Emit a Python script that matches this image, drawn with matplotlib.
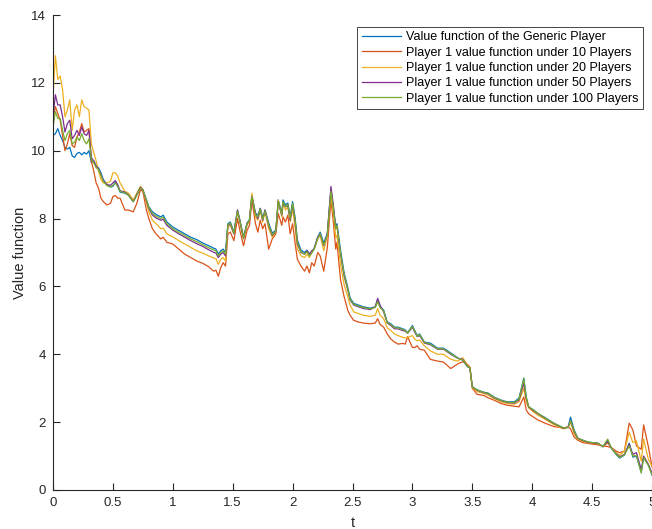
import matplotlib
matplotlib.use('Agg')
import matplotlib.pyplot as plt

# time grid shared by all paths
t = [
    0.00, 0.02, 0.04, 0.06, 0.08, 0.10, 0.12, 0.14, 0.16, 0.18,
    0.20, 0.22, 0.24, 0.26, 0.28, 0.30, 0.32, 0.34, 0.36, 0.38,
    0.40, 0.42, 0.45, 0.48, 0.50, 0.52, 0.54, 0.56, 0.60, 0.63,
    0.67, 0.70, 0.73, 0.75, 0.78, 0.80, 0.83, 0.86, 0.90, 0.92,
    0.95, 1.00, 1.05, 1.10, 1.15, 1.20, 1.25, 1.30, 1.34, 1.36,
    1.38, 1.40, 1.42, 1.44, 1.46, 1.48, 1.51, 1.54, 1.56, 1.59,
    1.62, 1.64, 1.66, 1.69, 1.71, 1.73, 1.75, 1.77, 1.80, 1.83,
    1.86, 1.88, 1.91, 1.92, 1.94, 1.96, 1.98, 2.00, 2.02, 2.04,
    2.07, 2.10, 2.12, 2.14, 2.16, 2.18, 2.21, 2.23, 2.26, 2.29,
    2.32, 2.34, 2.36, 2.37, 2.40, 2.43, 2.46, 2.48, 2.51, 2.55,
    2.59, 2.65, 2.69, 2.71, 2.73, 2.76, 2.79, 2.82, 2.85, 2.88,
    2.92, 2.94, 2.96, 3.00, 3.02, 3.04, 3.06, 3.10, 3.15, 3.21,
    3.26, 3.32, 3.38, 3.42, 3.46, 3.48, 3.50, 3.54, 3.60, 3.63,
    3.68, 3.74, 3.79, 3.85, 3.89, 3.93, 3.95, 3.97, 4.01, 4.05,
    4.10, 4.18, 4.26, 4.30, 4.32, 4.35, 4.38, 4.42, 4.47, 4.55,
    4.59, 4.63, 4.66, 4.70, 4.73, 4.77, 4.81, 4.84, 4.87, 4.91,
    4.93, 4.97, 5.00,
]

v_generic = [
    10.45, 10.50, 10.65, 10.45, 10.30, 10.10, 10.05, 10.10, 9.85, 9.80,
    9.92, 9.95, 9.88, 9.95, 9.90, 10.00, 9.65, 9.70, 9.55, 9.50,
    9.35, 9.15, 9.00, 8.93, 8.95, 9.08, 8.95, 8.78, 8.75, 8.69,
    8.50, 8.70, 8.90, 8.85, 8.55, 8.35, 8.20, 8.12, 8.05, 8.10,
    7.90, 7.75, 7.65, 7.55, 7.45, 7.38, 7.28, 7.20, 7.13, 7.10,
    6.95, 7.05, 7.10, 7.00, 7.85, 7.90, 7.60, 8.25, 7.96, 7.46,
    7.87, 7.97, 8.69, 8.16, 8.10, 8.30, 8.02, 8.25, 7.87, 7.57,
    7.66, 8.55, 8.16, 8.55, 8.40, 8.46, 8.05, 8.50, 8.05, 7.37,
    7.07, 7.00, 7.07, 6.95, 7.00, 7.13, 7.46, 7.60, 7.28, 7.57,
    8.84, 8.34, 7.75, 7.85, 7.07, 6.40, 5.98, 5.66, 5.50, 5.45,
    5.40, 5.36, 5.40, 5.60, 5.40, 5.30, 4.95, 4.90, 4.80, 4.80,
    4.75, 4.72, 4.63, 4.85, 4.70, 4.55, 4.60, 4.36, 4.33, 4.18,
    4.18, 4.04, 3.89, 3.83, 3.63, 3.60, 3.04, 2.95, 2.88, 2.86,
    2.74, 2.65, 2.60, 2.60, 2.71, 3.30, 2.74, 2.45, 2.36, 2.25,
    2.15, 1.97, 1.83, 1.85, 2.15, 1.77, 1.53, 1.47, 1.41, 1.38,
    1.27, 1.47, 1.24, 1.05, 0.94, 1.03, 1.38, 0.97, 1.00, 0.53,
    0.97, 0.74, 0.44,
]

v_10 = [
    10.95, 11.30, 11.10, 10.90, 10.45, 10.00, 10.20, 10.50, 10.15, 10.10,
    10.40, 10.55, 10.80, 10.55, 10.60, 10.65, 9.70, 9.40, 9.05, 8.90,
    8.60, 8.50, 8.40, 8.45, 8.65, 8.68, 8.60, 8.60, 8.25, 8.25,
    8.20, 8.45, 8.85, 8.80, 8.25, 8.00, 7.70, 7.55, 7.40, 7.45,
    7.30, 7.25, 7.10, 6.95, 6.85, 6.75, 6.68, 6.58, 6.45, 6.48,
    6.30, 6.55, 6.70, 6.60, 7.55, 7.60, 7.35, 8.00, 7.65, 7.20,
    7.65, 7.80, 8.55, 7.85, 7.60, 7.95, 7.70, 7.85, 7.10, 7.40,
    7.55, 8.15, 7.80, 8.05, 7.90, 8.10, 7.55, 7.85, 7.30, 6.80,
    6.60, 6.45, 6.60, 6.40, 6.70, 6.60, 7.00, 6.90, 6.45, 7.15,
    8.55, 7.90, 7.10, 7.30, 6.20, 5.70, 5.30, 5.15, 5.00, 4.95,
    4.92, 4.90, 4.92, 5.05, 4.88, 4.80, 4.60, 4.45, 4.36, 4.30,
    4.32, 4.30, 4.52, 4.20, 4.20, 4.25, 4.15, 4.12, 3.85, 3.80,
    3.77, 3.58, 3.72, 3.78, 3.70, 3.62, 3.00, 2.82, 2.78, 2.72,
    2.65, 2.55, 2.50, 2.47, 2.45, 2.74, 2.36, 2.25, 2.15, 2.06,
    1.98, 1.87, 1.83, 1.86, 1.80, 1.56, 1.47, 1.40, 1.37, 1.33,
    1.30, 1.28, 1.25, 1.15, 1.10, 1.15, 1.97, 1.77, 1.30, 1.20,
    1.92, 1.27, 0.68,
]

v_20 = [
    11.60, 12.80, 12.10, 12.20, 11.80, 11.00, 11.20, 11.50, 10.60, 11.20,
    11.35, 11.00, 11.50, 11.30, 11.25, 11.20, 10.20, 9.95, 9.70, 9.40,
    9.15, 9.05, 9.05, 9.10, 9.35, 9.35, 9.25, 9.05, 8.80, 8.75,
    8.55, 8.75, 8.95, 8.85, 8.45, 8.20, 7.95, 7.85, 7.70, 7.72,
    7.55, 7.46, 7.35, 7.25, 7.15, 7.05, 6.98, 6.90, 6.84, 6.82,
    6.65, 6.80, 6.85, 6.75, 7.75, 7.80, 7.55, 8.20, 7.90, 7.40,
    7.80, 7.95, 8.75, 8.05, 7.95, 8.25, 7.90, 8.20, 7.70, 7.45,
    7.60, 8.55, 8.05, 8.45, 8.25, 8.35, 7.90, 8.30, 7.75, 7.10,
    6.90, 6.85, 6.95, 6.85, 7.00, 7.10, 7.40, 7.50, 7.05, 7.50,
    8.75, 8.15, 7.45, 7.50, 6.65, 6.05, 5.70, 5.45, 5.25, 5.20,
    5.15, 5.12, 5.15, 5.35, 5.15, 5.05, 4.78, 4.70, 4.60, 4.55,
    4.50, 4.48, 4.50, 4.55, 4.45, 4.40, 4.42, 4.25, 4.10, 4.00,
    4.00, 3.85, 3.80, 3.90, 3.68, 3.62, 3.02, 2.90, 2.84, 2.80,
    2.70, 2.60, 2.55, 2.53, 2.60, 3.00, 2.60, 2.42, 2.30, 2.20,
    2.10, 1.93, 1.80, 1.85, 2.00, 1.65, 1.50, 1.44, 1.39, 1.36,
    1.28, 1.38, 1.25, 1.10, 1.02, 1.15, 1.70, 1.40, 1.45, 0.85,
    1.50, 0.90, 0.70,
]

v_50 = [
    11.00, 11.65, 11.35, 11.35, 11.00, 10.55, 10.80, 10.90, 10.35, 10.45,
    10.60, 10.45, 10.70, 10.50, 10.45, 10.60, 9.80, 9.70, 9.55, 9.45,
    9.30, 9.12, 9.00, 8.98, 9.05, 9.12, 9.00, 8.82, 8.78, 8.70,
    8.50, 8.72, 8.92, 8.85, 8.52, 8.30, 8.10, 8.02, 7.95, 7.98,
    7.80, 7.66, 7.55, 7.45, 7.35, 7.26, 7.18, 7.08, 7.01, 6.98,
    6.85, 6.95, 7.00, 6.90, 7.80, 7.85, 7.55, 8.25, 7.92, 7.42,
    7.85, 7.95, 8.65, 8.15, 8.00, 8.30, 7.95, 8.25, 7.80, 7.50,
    7.62, 8.50, 8.10, 8.45, 8.35, 8.40, 7.95, 8.40, 7.95, 7.25,
    7.00, 6.95, 7.05, 6.95, 7.05, 7.10, 7.45, 7.55, 7.20, 7.55,
    8.95, 8.40, 7.70, 7.80, 6.95, 6.30, 5.90, 5.60, 5.45, 5.40,
    5.35, 5.32, 5.40, 5.65, 5.45, 5.25, 4.92, 4.85, 4.75, 4.75,
    4.70, 4.68, 4.62, 4.80, 4.65, 4.52, 4.55, 4.33, 4.28, 4.15,
    4.15, 4.00, 3.88, 3.85, 3.65, 3.60, 3.04, 2.94, 2.86, 2.84,
    2.72, 2.63, 2.58, 2.56, 2.65, 3.15, 2.70, 2.45, 2.34, 2.24,
    2.13, 1.96, 1.82, 1.85, 2.05, 1.72, 1.52, 1.46, 1.40, 1.37,
    1.28, 1.42, 1.24, 1.08, 0.98, 1.05, 1.35, 1.05, 1.10, 0.60,
    1.00, 0.75, 0.50,
]

v_100 = [
    10.70, 11.15, 10.95, 10.95, 10.60, 10.30, 10.50, 10.60, 10.20, 10.25,
    10.40, 10.30, 10.50, 10.30, 10.20, 10.35, 9.75, 9.65, 9.50, 9.45,
    9.28, 9.10, 8.97, 8.93, 8.98, 9.05, 8.95, 8.80, 8.76, 8.69,
    8.50, 8.70, 8.90, 8.85, 8.55, 8.33, 8.15, 8.07, 8.00, 8.04,
    7.85, 7.70, 7.60, 7.50, 7.40, 7.32, 7.23, 7.14, 7.08, 7.05,
    6.90, 7.00, 7.05, 6.95, 7.82, 7.87, 7.57, 8.22, 7.93, 7.43,
    7.85, 7.95, 8.65, 8.12, 8.05, 8.28, 7.98, 8.22, 7.82, 7.52,
    7.63, 8.50, 8.12, 8.50, 8.35, 8.42, 8.00, 8.45, 8.00, 7.30,
    7.02, 6.95, 7.02, 6.90, 6.98, 7.10, 7.42, 7.55, 7.22, 7.52,
    8.80, 8.30, 7.70, 7.80, 7.00, 6.35, 5.93, 5.62, 5.47, 5.42,
    5.38, 5.34, 5.38, 5.55, 5.38, 5.28, 4.93, 4.88, 4.78, 4.78,
    4.73, 4.70, 4.62, 4.82, 4.68, 4.53, 4.58, 4.35, 4.30, 4.16,
    4.16, 4.02, 3.88, 3.83, 3.64, 3.60, 3.04, 2.95, 2.87, 2.85,
    2.73, 2.64, 2.59, 2.58, 2.68, 3.28, 2.74, 2.46, 2.36, 2.25,
    2.14, 1.97, 1.83, 1.84, 2.05, 1.75, 1.53, 1.47, 1.41, 1.38,
    1.28, 1.50, 1.24, 1.06, 0.96, 1.04, 1.30, 1.00, 1.02, 0.50,
    0.95, 0.72, 0.45,
]

labels = [
    'Value function of the Generic Player',
    'Player 1 value function under 10 Players',
    'Player 1 value function under 20 Players',
    'Player 1 value function under 50 Players',
    'Player 1 value function under 100 Players',
]
colors = ['#0072BD', '#D95319', '#EDB120', '#7E2F8E', '#77AC30']

plt.rcParams['font.family'] = ['Liberation Sans', 'DejaVu Sans']

fig = plt.figure(figsize=(6.52, 5.29), dpi=100)
ax = fig.add_axes([53 / 652, 1 - 490 / 529, 599 / 652, 475 / 529])

for v, lab, c in zip([v_generic, v_10, v_20, v_50, v_100], labels, colors):
    ax.plot(t, v, color=c, linewidth=0.9, label=lab)

ax.set_xlim(0, 5)
ax.set_ylim(0, 14)
ax.set_xticks([0, 0.5, 1, 1.5, 2, 2.5, 3, 3.5, 4, 4.5, 5])
ax.set_xticklabels(['0', '0.5', '1', '1.5', '2', '2.5', '3', '3.5', '4', '4.5', '5'])
ax.set_yticks([0, 2, 4, 6, 8, 10, 12, 14])

for s in ['top', 'right']:
    ax.spines[s].set_visible(False)
for s in ['left', 'bottom']:
    ax.spines[s].set_color('#262626')
    ax.spines[s].set_linewidth(0.8)
ax.tick_params(direction='in', length=5, width=0.8, colors='#262626',
               labelsize=9.5, pad=5)

ax.set_xlabel('t', fontsize=10.5, color='#262626', labelpad=5)
ax.set_ylabel('Value function', fontsize=10.5, color='#262626', labelpad=3)

leg = ax.legend(loc='upper right', bbox_to_anchor=(0.985, 0.975),
                borderaxespad=0, fontsize=9, fancybox=False,
                framealpha=1, edgecolor='#262626', handlelength=3.1,
                labelspacing=0.27, borderpad=0.35, handletextpad=0.45)
leg.get_frame().set_linewidth(0.6)

fig.savefig('out.png', dpi=100)
